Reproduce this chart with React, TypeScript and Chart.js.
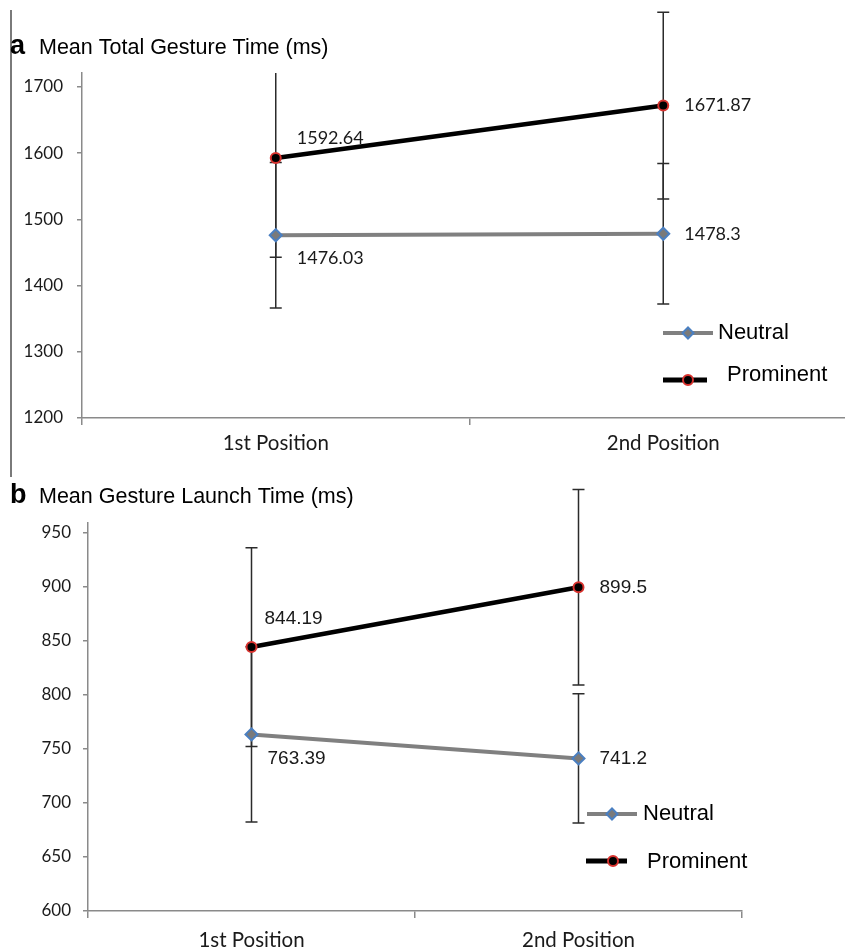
import React, { useEffect, useRef } from 'react';
import { Chart, registerables } from 'chart.js';

Chart.register(...registerables);

// ---------- data ----------
const categories = ['1st Position', '2nd Position'];
const seriesNames = ['Neutral', 'Prominent'];

// Panel a: Mean Total Gesture Time (ms)
const totalNeutral = [1476.03, 1478.3];
const totalProminent = [1592.64, 1671.87];
const totalNeutralErr = [110, 106];
const totalProminentErr = [150, 141];
const totalTicks = [1200, 1300, 1400, 1500, 1600, 1700];

// Panel b: Mean Gesture Launch Time (ms)
const launchNeutral = [763.39, 741.2];
const launchProminent = [844.19, 899.5];
const launchNeutralErr = [81, 59.7];
const launchProminentErr = [92, 90.5];
const launchTicks = [600, 650, 700, 750, 800, 850, 900, 950];

// ---------- styles ----------
const AXIS = '#8a8a8a';
const NEUTRAL_LINE = '#808080';
const NEUTRAL_FILL = '#7a7a7a';
const NEUTRAL_EDGE = '#4a7fc1';
const PROM_LINE = '#000000';
const PROM_EDGE = '#d8322e';
const CAL = 'Lato, "Open Sans", sans-serif';
const ARIAL = '"Liberation Sans", Arial, sans-serif';

function drawDiamond(ctx: CanvasRenderingContext2D, x: number, y: number, r: number) {
  ctx.beginPath();
  ctx.moveTo(x - r, y);
  ctx.lineTo(x, y - r);
  ctx.lineTo(x + r, y);
  ctx.lineTo(x, y + r);
  ctx.closePath();
  ctx.fillStyle = NEUTRAL_FILL;
  ctx.fill();
  ctx.strokeStyle = NEUTRAL_EDGE;
  ctx.lineWidth = 2;
  ctx.stroke();
}
function drawCircle(ctx: CanvasRenderingContext2D, x: number, y: number, r: number) {
  ctx.beginPath();
  ctx.arc(x, y, r, 0, Math.PI * 2);
  ctx.fillStyle = '#000';
  ctx.fill();
  ctx.strokeStyle = PROM_EDGE;
  ctx.lineWidth = 2;
  ctx.stroke();
}

const errorBarsPlugin = {
  id: 'errorBars',
  beforeDatasetsDraw(chart: any, _a: any, opts: any) {
    const ctx = chart.ctx as CanvasRenderingContext2D;
    const y = chart.scales.y;
    ctx.save();
    ctx.strokeStyle = '#2b2b2b';
    ctx.lineWidth = 1.5;
    opts.errors.forEach((errs: number[], di: number) => {
      const meta = chart.getDatasetMeta(di);
      const data = chart.data.datasets[di].data as number[];
      meta.data.forEach((pt: any, i: number) => {
        const v = data[i];
        const e = errs[i];
        let hi = v + e;
        let capHi = true;
        if (opts.clipTop && opts.clipTop[di][i] && hi > y.max) {
          hi = y.max;
          capHi = false;
        }
        const yHi = y.getPixelForValue(hi);
        const yLo = y.getPixelForValue(v - e);
        const x = pt.x;
        ctx.beginPath();
        ctx.moveTo(x, yHi);
        ctx.lineTo(x, yLo);
        ctx.moveTo(x - 6, yLo);
        ctx.lineTo(x + 6, yLo);
        if (capHi) {
          ctx.moveTo(x - 6, yHi);
          ctx.lineTo(x + 6, yHi);
        }
        ctx.stroke();
      });
    });
    ctx.restore();
  },
};

const pointLabelsPlugin = {
  id: 'pointLabels',
  afterDatasetsDraw(chart: any, _a: any, opts: any) {
    const ctx = chart.ctx as CanvasRenderingContext2D;
    ctx.save();
    ctx.font = opts.font;
    ctx.fillStyle = '#1a1a1a';
    ctx.textAlign = 'left';
    ctx.textBaseline = 'middle';
    chart.data.datasets.forEach((ds: any, di: number) => {
      const meta = chart.getDatasetMeta(di);
      meta.data.forEach((pt: any, i: number) => {
        const off = opts.offsets[di][i];
        ctx.fillText(String(ds.data[i]), pt.x + off[0], pt.y + off[1]);
      });
    });
    ctx.restore();
  },
};

const decorPlugin = {
  id: 'decor',
  afterDraw(chart: any, _a: any, opts: any) {
    const ctx = chart.ctx as CanvasRenderingContext2D;
    ctx.save();
    // left frame line
    if (opts.frame) {
      ctx.strokeStyle = '#7a7a7a';
      ctx.lineWidth = 2;
      ctx.beginPath();
      ctx.moveTo(opts.frame[0], opts.frame[1]);
      ctx.lineTo(opts.frame[0], opts.frame[2]);
      ctx.stroke();
    }
    // title
    ctx.fillStyle = '#000';
    ctx.textBaseline = 'alphabetic';
    ctx.textAlign = 'left';
    ctx.font = `bold 27px ${ARIAL}`;
    ctx.fillText(opts.letter, 10, opts.titleY);
    ctx.font = `21.5px ${ARIAL}`;
    ctx.fillText(opts.title, 39, opts.titleY);
    // legend
    const L = opts.legend;
    ctx.lineCap = 'butt';
    ctx.strokeStyle = NEUTRAL_LINE;
    ctx.lineWidth = 4;
    ctx.beginPath();
    ctx.moveTo(L.n[0], L.n[2]);
    ctx.lineTo(L.n[1], L.n[2]);
    ctx.stroke();
    drawDiamond(ctx, (L.n[0] + L.n[1]) / 2, L.n[2], 5.5);
    ctx.strokeStyle = PROM_LINE;
    ctx.lineWidth = 5;
    ctx.beginPath();
    ctx.moveTo(L.p[0], L.p[2]);
    ctx.lineTo(L.p[1], L.p[2]);
    ctx.stroke();
    drawCircle(ctx, L.pm, L.p[2], 5);
    ctx.fillStyle = '#000';
    ctx.font = `22px ${ARIAL}`;
    ctx.textBaseline = 'middle';
    ctx.fillText(seriesNames[0], L.nt[0], L.nt[1]);
    ctx.fillText(seriesNames[1], L.pt[0], L.pt[1]);
    ctx.restore();
  },
};

function buildConfig(p: any) {
  return {
    type: 'line' as const,
    data: {
      labels: categories,
      datasets: [
        {
          label: seriesNames[0],
          data: p.neutral,
          borderColor: NEUTRAL_LINE,
          borderWidth: 4,
          pointStyle: 'rectRot',
          pointRadius: 6,
          pointBorderWidth: 2,
          pointBackgroundColor: NEUTRAL_FILL,
          pointBorderColor: NEUTRAL_EDGE,
          tension: 0,
          clip: false,
        },
        {
          label: seriesNames[1],
          data: p.prominent,
          borderColor: PROM_LINE,
          borderWidth: 4.5,
          pointStyle: 'circle',
          pointRadius: 5,
          pointBorderWidth: 2,
          pointBackgroundColor: '#000',
          pointBorderColor: PROM_EDGE,
          tension: 0,
          clip: false,
        },
      ],
    },
    options: {
      responsive: false,
      animation: false,
      devicePixelRatio: 1,
      events: [],
      layout: { padding: { top: p.padTop, left: 0, right: 0, bottom: 0 } },
      scales: {
        x: {
          type: 'category',
          offset: true,
          grid: {
            offset: true,
            drawOnChartArea: false,
            drawTicks: true,
            tickLength: 7,
            color: AXIS,
            lineWidth: 1.5,
          },
          border: { color: AXIS, width: 1.5 },
          ticks: { font: { family: CAL, size: p.xFont }, color: '#1a1a1a', padding: p.xPad, maxRotation: 0 },
          afterFit(scale: any) {
            scale.height = p.xHeight;
          },
        },
        y: {
          min: p.yMin,
          max: p.yMax,
          grid: {
            drawOnChartArea: false,
            drawTicks: true,
            tickLength: 5,
            color: AXIS,
            lineWidth: 1.5,
          },
          border: { color: AXIS, width: 1.5 },
          ticks: {
            font: { family: CAL, size: 17 },
            color: '#1a1a1a',
            padding: p.yPad,
            callback: (v: any) => String(v),
          },
          afterBuildTicks(scale: any) {
            scale.ticks = p.yTicks.map((v: number) => ({ value: v }));
          },
          afterFit(scale: any) {
            scale.width = p.yWidth;
          },
        },
      },
      plugins: {
        legend: { display: false },
        title: { display: false },
        tooltip: { enabled: false },
        errorBars: { errors: p.errors, clipTop: p.clipTop },
        pointLabels: { font: p.labelFont, offsets: p.labelOffsets },
        decor: {
          frame: p.frame,
          letter: p.letter,
          title: p.title,
          titleY: p.titleY,
          legend: p.legend,
        },
      },
    },
    plugins: [errorBarsPlugin, pointLabelsPlugin, decorPlugin],
  };
}

function ChartCanvas({ config, width, height, top }: any) {
  const ref = useRef<HTMLCanvasElement>(null);
  useEffect(() => {
    const chart = new Chart(ref.current as HTMLCanvasElement, config() as any);
    return () => chart.destroy();
  }, []);
  return (
    <canvas
      ref={ref}
      width={width}
      height={height}
      style={{ position: 'absolute', left: 0, top, width, height, display: 'block' }}
    />
  );
}

const topConfig = () =>
  buildConfig({
    neutral: totalNeutral,
    prominent: totalProminent,
    errors: [totalNeutralErr, totalProminentErr],
    clipTop: [
      [false, false],
      [true, false],
    ],
    yMin: 1200,
    yMax: 1721,
    yTicks: totalTicks,
    padTop: 73,
    yWidth: 82,
    xHeight: 62,
    yPad: 14,
    xPad: 6,
    xFont: 20.5,
    labelFont: `18px ${CAL}`,
    labelOffsets: [
      [
        [21, 23],
        [21, 0],
      ],
      [
        [21, -20],
        [21, 0],
      ],
    ],
    frame: [11, 10, 477],
    letter: 'a',
    title: 'Mean Total Gesture Time (ms)',
    titleY: 54,
    legend: { n: [663, 713, 333], p: [663, 707, 380], pm: 688, nt: [718, 333], pt: [727, 375] },
  });

const bottomConfig = () =>
  buildConfig({
    neutral: launchNeutral,
    prominent: launchProminent,
    errors: [launchNeutralErr, launchProminentErr],
    clipTop: null,
    yMin: 600,
    yMax: 959,
    yTicks: launchTicks,
    padTop: 43,
    yWidth: 88,
    xHeight: 39,
    yPad: 12,
    xPad: 10,
    xFont: 20.5,
    labelFont: `19px ${ARIAL}`,
    labelOffsets: [
      [
        [16, 24],
        [21, 0],
      ],
      [
        [13, -28],
        [21, 0],
      ],
    ],
    frame: null,
    letter: 'b',
    title: 'Mean Gesture Launch Time (ms)',
    titleY: 23,
    legend: { n: [587, 637, 334], p: [586, 627, 381], pm: 613, nt: [643, 334], pt: [647, 382] },
  });

export default function App() {
  return (
    <div
      style={{
        position: 'absolute',
        left: 0,
        top: 0,
        width: 845,
        height: 950,
        overflow: 'hidden',
        background: '#fff',
      }}
    >
      <ChartCanvas config={topConfig} width={865} height={480} top={0} />
      <ChartCanvas config={bottomConfig} width={750} height={470} top={480} />
    </div>
  );
}
